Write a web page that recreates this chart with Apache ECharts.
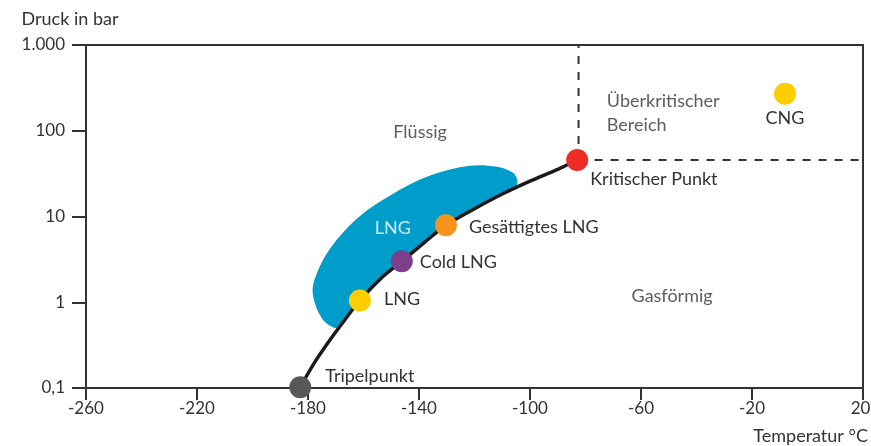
<!DOCTYPE html>
<html>
<head>
<meta charset="utf-8">
<script src="https://cdn.jsdelivr.net/npm/echarts@6/dist/echarts.min.js"></script>
<style>html,body{margin:0;padding:0;background:#fff}#c{width:871px;height:446px}</style>
</head>
<body>
<div id="c"></div>
<script>
// ---- data ----
const xMin = -260, xMax = 20, xStep = 40;
const yTickValues = [0.1, 1, 10, 100, 1000];
const yTickLabels = ['0,1', '1', '10', '100', '1.000'];

// vapour pressure curve (Temperatur °C, Druck bar)
const curveT = [-182.8, -178, -173, -168, -161.3, -153, -146.2, -138, -130.3, -120, -110, -100, -90, -83];
const curveP = [0.102, 0.19, 0.33, 0.55, 1.05, 2.0, 3.0, 5.0, 7.9, 12.3, 18.3, 25.9, 35.5, 45.6];

// LNG region outline (upper/left edge, then back along the curve)
const blobT = [-170.3, -175.0, -178.2, -177.5, -172.1, -162.3, -150.5, -136.0, -121.6, -111.9, -106.5, -104.7];
const blobP = [0.50, 0.65, 1.2, 1.9, 4.2, 9.5, 17.5, 30, 39, 38, 33, 27.5];
const blobBackT = [-105, -110, -120, -130.3, -138, -146.2, -153, -161.3, -168];
const blobBackP = [22.5, 18.3, 12.3, 7.9, 5.0, 3.0, 2.0, 1.05, 0.55];

// marked points
const pointNames = ['Tripelpunkt', 'LNG', 'Cold LNG', 'Gesättigtes LNG', 'Kritischer Punkt', 'CNG'];
const pointT = [-182.8, -161.3, -146.2, -130.3, -83, -8.1];
const pointP = [0.102, 1.05, 3.0, 7.9, 45.6, 270];

// critical point limits (dashed lines)
const critT = -82.5, critP = 45.6;

// region texts
const regionNames = ['Flüssig', 'Gasförmig', 'Überkritischer\nBereich', 'LNG'];
const regionT = [-139.6, -48.8, -72.3, -149.4];
const regionP = [97, 1.17, 162, 7.4];

// ---- styles ----
const FONT = 'Lato';
const TXT = '#333333';
const AX = '#333333';
const pointColors = ['#58585a', '#ffcd00', '#7d3f8b', '#f7941d', '#ee2b24', '#ffcd00'];
const pointLabel = [
  {position: 'right', distance: 14, offset: [0, -11]},
  {position: 'right', distance: 13, offset: [0, -1]},
  {position: 'right', distance: 7, offset: [0, 1]},
  {position: 'right', distance: 12, offset: [0, 2]},
  {position: 'right', distance: 2, offset: [0, 19]},
  {position: 'bottom', distance: 4, offset: [0, 0]}
];
const regionStyle = [
  {position: 'inside', align: 'center', color: TXT},
  {position: 'inside', align: 'center', color: TXT},
  {position: 'right', distance: 0, align: 'left', color: TXT, lineHeight: 24},
  {position: 'inside', align: 'center', color: '#ffffff'}
];

const chart = echarts.init(document.getElementById('c'), null, {renderer: 'canvas'});

const blobData = blobT.map((t, i) => [t, blobP[i]]).concat(blobBackT.map((t, i) => [t, blobBackP[i]]));

const option = {
  animation: false,
  backgroundColor: '#ffffff',
  textStyle: {fontFamily: FONT},
  grid: {left: 86, right: 8, top: 45, bottom: 58, outerBoundsMode: 'none', containLabel: false,
    show: true, borderColor: AX, borderWidth: 2, backgroundColor: 'transparent'},
  xAxis: {
    type: 'value', min: xMin, max: xMax, interval: xStep,
    axisLine: {onZero: false, lineStyle: {color: AX, width: 2}},
    axisTick: {show: true, length: 12, lineStyle: {color: AX, width: 2}},
    axisLabel: {
      color: TXT, fontSize: 17, fontFamily: FONT, margin: 12,
      formatter: v => v === xMax ? '{e|' + v + '}' : String(v),
      rich: {e: {color: TXT, fontSize: 17, fontFamily: FONT, padding: [0, 5, 0, 0]}}
    },
    splitLine: {show: false}
  },
  yAxis: {
    type: 'log', logBase: 10, min: 0.1, max: 1000,
    name: 'Druck in bar', nameLocation: 'end', nameGap: 17,
    nameTextStyle: {color: TXT, fontSize: 18, fontFamily: FONT, align: 'center', padding: [0, 32, 0, 0]},
    axisLine: {show: true, onZero: false, lineStyle: {color: AX, width: 2}},
    axisTick: {show: true, length: 14, lineStyle: {color: AX, width: 2}},
    axisLabel: {
      color: TXT, fontSize: 17, fontFamily: FONT, margin: 21,
      formatter: v => {
        const i = yTickValues.findIndex(t => Math.abs(Math.log10(t) - Math.log10(v)) < 1e-6);
        return i >= 0 ? yTickLabels[i] : '';
      }
    },
    splitLine: {show: false}
  },
  graphic: [{
    type: 'text', right: 3, top: 427,
    style: {text: 'Temperatur °C', fill: TXT, font: '18px ' + FONT}
  }],
  series: [
    {
      type: 'custom', z: 1, silent: true,
      data: [0],
      renderItem: (params, api) => {
        const pts = blobData.map(d => api.coord(d));
        return {type: 'polygon', shape: {points: pts, smooth: 0.35}, style: {fill: '#009dcb'}};
      }
    },
    {
      type: 'line', z: 3, smooth: 0.3, symbol: 'none',
      data: curveT.map((t, i) => [t, curveP[i]]),
      lineStyle: {color: '#1a1a1a', width: 3.5}
    },
    {
      type: 'line', z: 2, symbol: 'none',
      data: [[critT, critP], [critT, 1000]],
      lineStyle: {color: AX, width: 2, type: [8, 8]}
    },
    {
      type: 'line', z: 2, symbol: 'none',
      data: [[critT, critP], [xMax, critP]],
      lineStyle: {color: AX, width: 2, type: [8, 8]}
    },
    {
      type: 'scatter', z: 5, symbolSize: 22,
      data: pointNames.map((n, i) => ({
        name: n, value: [pointT[i], pointP[i]],
        itemStyle: {color: pointColors[i], opacity: 1},
        label: Object.assign({show: true, formatter: '{b}', color: TXT, fontSize: 18, fontFamily: FONT}, pointLabel[i])
      }))
    },
    {
      type: 'scatter', z: 6, symbolSize: 0, silent: true,
      data: regionNames.map((n, i) => ({
        name: n, value: [regionT[i], regionP[i]],
        label: Object.assign({show: true, formatter: '{b}', fontSize: 18, fontFamily: FONT}, regionStyle[i])
      }))
    }
  ]
};
chart.setOption(option);
</script>
</body>
</html>
